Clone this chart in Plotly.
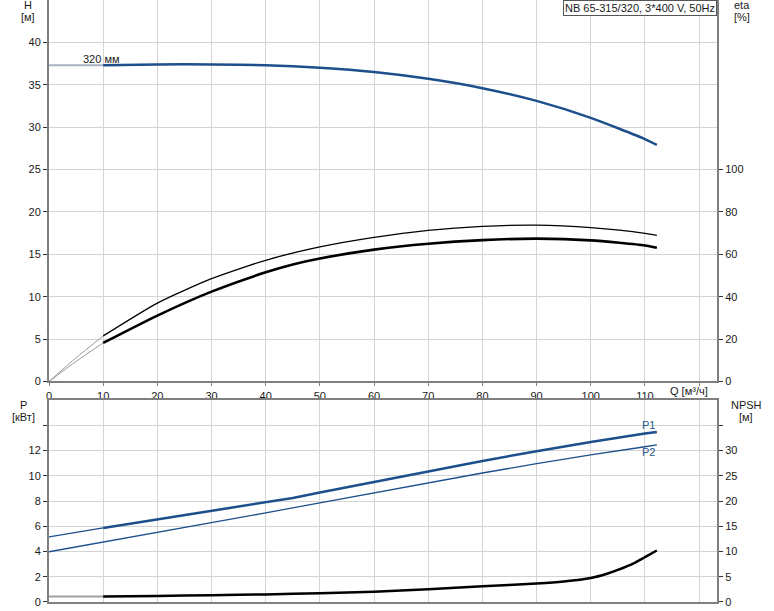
import plotly.graph_objects as go

# ---------------- data ----------------
q_h = [10, 20, 30, 40, 50, 60, 70, 80, 90, 100, 110, 112.2]
h_vals = [37.3, 37.4, 37.4, 37.3, 37.0, 36.5, 35.7, 34.6, 33.1, 31.1, 28.6, 27.9]
q_h_ext = [0, 10]
h_ext = [37.3, 37.3]

q_eta1 = [10, 20, 30, 40, 50, 60, 70, 80, 90, 100, 110, 112.2]
eta1 = [21.5, 37.0, 48.5, 57.2, 63.5, 68.0, 71.3, 73.2, 73.8, 72.6, 69.9, 68.9]
q_eta1_ext = [0, 5, 10]
eta1_ext = [0, 11.2, 21.5]

q_eta2 = [10, 20, 30, 40, 45, 50, 60, 70, 80, 90, 100, 110, 112.2]
eta2 = [18.2, 31.1, 42.4, 51.5, 55.2, 58.0, 62.2, 65.0, 66.7, 67.4, 66.6, 64.2, 63.1]
q_eta2_ext = [0, 5, 10]
eta2_ext = [0, 9.5, 18.2]

q_p1 = [10, 20, 30, 40, 45, 50, 60, 70, 80, 90, 100, 110, 112.2]
p1 = [5.87, 6.53, 7.21, 7.89, 8.24, 8.67, 9.52, 10.36, 11.17, 11.95, 12.68, 13.34, 13.47]
q_p1_ext = [0, 10]
p1_ext = [5.16, 5.87]

q_p2 = [0, 10, 20, 30, 40, 50, 60, 70, 80, 90, 100, 110, 112.2]
p2 = [3.98, 4.74, 5.50, 6.27, 7.06, 7.86, 8.66, 9.45, 10.22, 10.96, 11.66, 12.30, 12.44]

q_npsh = [10, 20, 30, 40, 50, 60, 70, 80, 90, 95, 100, 103, 105, 108, 110, 112.2]
npsh = [1.1, 1.2, 1.35, 1.5, 1.75, 2.05, 2.55, 3.1, 3.65, 4.05, 4.75, 5.6, 6.35, 7.7, 8.9, 10.2]
q_npsh_ext = [0, 10]
npsh_ext = [1.1, 1.1]

x_ticks = [0, 10, 20, 30, 40, 50, 60, 70, 80, 90, 100, 110, 120]
x_ticktext = ["0", "10", "20", "30", "40", "50", "60", "70", "80", "90", "100", "110", ""]
h_ticks = [0, 5, 10, 15, 20, 25, 30, 35, 40]
eta_ticks = [0, 20, 40, 60, 80, 100]
p_ticks = [0, 2, 4, 6, 8, 10, 12, 14]
p_ticktext = ["0", "2", "4", "6", "8", "10", "12", ""]
npsh_ticks = [0, 5, 10, 15, 20, 25, 30, 35]
npsh_ticktext = ["0", "5", "10", "15", "20", "25", "30", ""]

title_text = "NB 65-315/320, 3*400 V, 50Hz"
curve_label = "320 мм"

# ---------------- style ----------------
BLUE = "#1d4f8c"
GRID = "#d4d4d4"
AXIS = "#7f7f7f"
TXT = "#1a1a1a"
FONT = "Liberation Sans"

fig = go.Figure()

def add(x, y, xa, ya, color, width, shape="spline"):
    line = dict(color=color, width=width, shape=shape)
    if shape == "spline":
        line["smoothing"] = 0.6
    fig.add_trace(go.Scatter(x=x, y=y, xaxis=xa, yaxis=ya, mode="lines", line=line,
                             hoverinfo="skip", showlegend=False))

# top plot
add(q_h_ext, h_ext, "x", "y", "#a8b3c3", 2, "linear")
add(q_h, h_vals, "x", "y", BLUE, 2.5)
add(q_eta1_ext, eta1_ext, "x", "y2", "#999999", 1)
add(q_eta2_ext, eta2_ext, "x", "y2", "#999999", 1)
add(q_eta1, eta1, "x", "y2", "#000000", 1.3)
add(q_eta2, eta2, "x", "y2", "#000000", 2.6)

# bottom plot
add(q_p2, p2, "x2", "y3", BLUE, 1.3, "linear")
add(q_p1_ext, p1_ext, "x2", "y3", BLUE, 1.2, "linear")
add(q_p1, p1, "x2", "y3", BLUE, 2.5, "linear")
add(q_npsh_ext, npsh_ext, "x2", "y4", "#a0a0a0", 2, "linear")
add(q_npsh, npsh, "x2", "y4", "#000000", 2.5)

XR = [0, 123.3]
tickfont = dict(family=FONT, size=11, color=TXT)

fig.update_layout(
    width=774, height=611,
    margin=dict(l=49, r=57, t=0, b=9),
    paper_bgcolor="white", plot_bgcolor="white",
    font=dict(family=FONT, size=11, color=TXT),
    xaxis=dict(domain=[0, 1], anchor="y", range=XR, tickvals=x_ticks, ticktext=x_ticktext,
               showgrid=True, gridcolor=GRID, gridwidth=1, showline=True, linecolor=AXIS,
               linewidth=2, ticks="outside", ticklen=3, tickcolor=AXIS, tickfont=tickfont,
               zeroline=False),
    yaxis=dict(domain=[0.3663, 1], anchor="x", range=[0, 45], tickvals=h_ticks,
               showgrid=True, gridcolor=GRID, gridwidth=1, showline=True, linecolor=AXIS,
               linewidth=2, ticks="outside", ticklen=4, tickcolor="#333333", tickfont=tickfont,
               zeroline=False),
    yaxis2=dict(overlaying="y", side="right", anchor="x", range=[0, 180], tickvals=eta_ticks,
                showgrid=False, showline=True, linecolor=AXIS, linewidth=2, ticks="outside",
                ticklen=4, tickcolor="#333333", tickfont=tickfont, zeroline=False),
    xaxis2=dict(domain=[0, 1], anchor="y3", range=XR, tickvals=x_ticks, showticklabels=False,
                showgrid=True, gridcolor=GRID, gridwidth=1, showline=True, linecolor=AXIS,
                linewidth=2, mirror=True, ticks="", zeroline=False),
    yaxis3=dict(domain=[0, 0.3355], anchor="x2", range=[0, 16], tickvals=p_ticks,
                ticktext=p_ticktext, showgrid=True, gridcolor=GRID, gridwidth=1, showline=True,
                linecolor=AXIS, linewidth=2, ticks="outside", ticklen=4, tickcolor="#333333",
                tickfont=tickfont, zeroline=False),
    yaxis4=dict(overlaying="y3", side="right", anchor="x2", range=[0, 40], tickvals=npsh_ticks,
                ticktext=npsh_ticktext, showgrid=False, showline=True, linecolor=AXIS,
                linewidth=2, ticks="outside", ticklen=4, tickcolor="#333333", tickfont=tickfont,
                zeroline=False),
)

def pann(text, x, y, xanchor="center", size=11, **kw):
    fig.add_annotation(text=text, x=x, y=y, xref="paper", yref="paper", xanchor=xanchor,
                       yanchor="middle", showarrow=False,
                       font=dict(family=FONT, size=size, color=TXT), **kw)

PW = 774 - 49 - 57
PH = 611 - 9
def px(x):
    return (x - 49) / PW
def py(y):
    return (PH - y) / PH

pann("H", px(28), py(5))
pann("[м]", px(28), py(17))
pann("eta", px(742), py(5))
pann("[%]", px(742), py(17))
pann("P", px(23), py(405))
pann("[кВт]", px(23), py(417))
pann("NPSH", px(746), py(405))
pann("[м]", px(746), py(417))
pann("Q [м³/ч]", px(689), py(391))

fig.add_annotation(text=title_text, x=1, y=1, xref="paper", yref="paper",
                   xanchor="right", yanchor="top", showarrow=False,
                   font=dict(family=FONT, size=11, color=TXT),
                   bordercolor="#555555", borderwidth=1, borderpad=1, bgcolor="white")

fig.add_annotation(text=curve_label, x=9.6, y=38.0, xref="x", yref="y", showarrow=False,
                   font=dict(family=FONT, size=11, color=TXT))
fig.add_annotation(text="P1", x=110.6, y=14.0, xref="x2", yref="y3", showarrow=False,
                   font=dict(family=FONT, size=11, color="#2a5a8f"))
fig.add_annotation(text="P2", x=110.6, y=11.9, xref="x2", yref="y3", showarrow=False,
                   font=dict(family=FONT, size=11, color="#2a5a8f"))

fig.write_html("out.html", config={"displayModeBar": False},
               post_script="document.body.style.margin='0';document.body.style.padding='0';"
                           "document.documentElement.style.overflow='hidden';")
